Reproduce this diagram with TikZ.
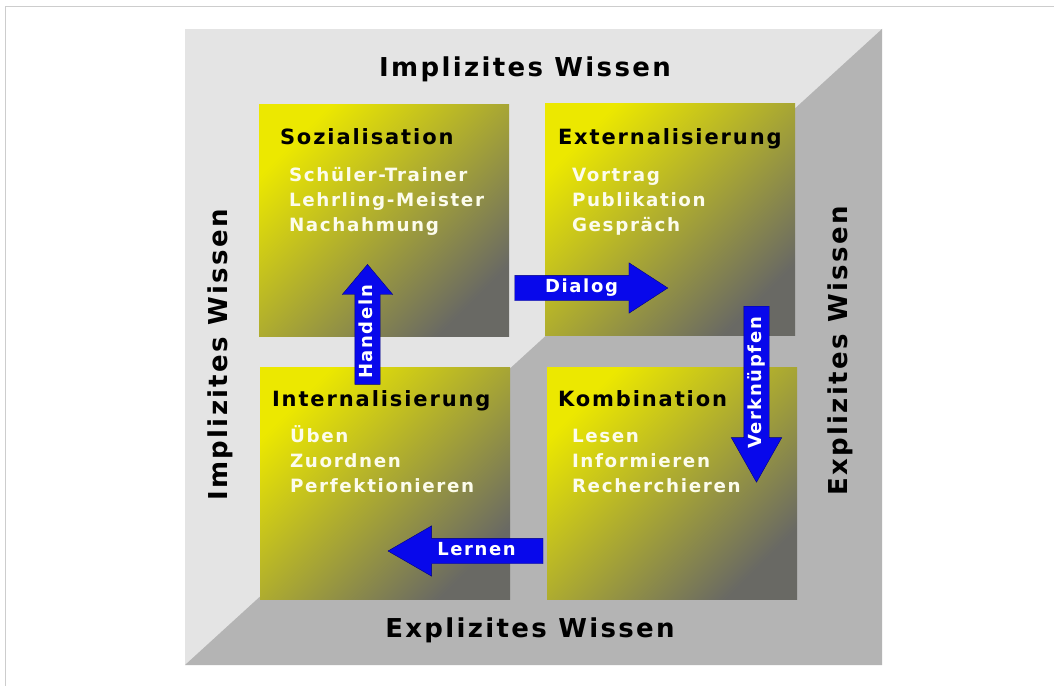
\documentclass[tikz,border=0pt]{standalone}
\usepackage{fontspec}
\setmainfont{DejaVu Sans}[LetterSpace=9]
\usepackage{tikz}
\usetikzlibrary{calc}
\usetikzlibrary{shapes.arrows}
\usepackage{xcolor}

\definecolor{framegrey}{RGB}{205,205,205}
\definecolor{lightside}{RGB}{228,228,228}
\definecolor{darkside}{RGB}{180,180,180}
\definecolor{boxyellow}{RGB}{236,232,0}
\definecolor{boxolive}{RGB}{188,183,35}
\definecolor{boxgrey}{RGB}{105,105,100}
\definecolor{arrowblue}{RGB}{8,8,235}
\definecolor{itemwhite}{RGB}{252,252,236}

\tikzset{
  quadrant/.style={rectangle, inner sep=0pt, minimum width=250pt, minimum height=232pt,
    top color=boxyellow, middle color=boxolive, bottom color=boxgrey, shading angle=45},
  heading/.style={font=\fontsize{26}{30}\selectfont\bfseries, text=black, inner sep=0pt},
  boxtitle/.style={font=\fontsize{21}{25}\selectfont\bfseries, text=black, inner sep=0pt, anchor=base west},
  boxitem/.style={font=\fontsize{18.3}{22}\selectfont\bfseries, text=itemwhite, inner sep=0pt, anchor=base west},
  flow/.style={single arrow, fill=arrowblue, draw=blue!50!black, thin,
    font=\fontsize{18}{22}\selectfont\bfseries, text=white,
    text height=13pt, text depth=4pt, inner ysep=4pt, inner xsep=2pt,
    single arrow head extend=12.5pt}
}

\begin{document}
\begin{tikzpicture}[x=1pt,y=-1pt]
\useasboundingbox (0,0) rectangle (1054,685);
\fill[white] (0,0) rectangle (1054,685);
\draw[framegrey] (5,6) rectangle (1080,710);

\fill[lightside] (185,29) rectangle (882,665);
\fill[darkside] (882,29) -- (882,665) -- (185,665) -- cycle;

\node[heading] (topimpl) at (525,77) [anchor=base] {Implizites Wissen};
\node[heading] (botexpl) at (530,637) [anchor=base] {Explizites Wissen};
\node[heading, rotate=90] (leftimpl) at (220,355) {Implizites Wissen};
\node[heading, rotate=90] (rightexpl) at (840,351) {Explizites Wissen};

\node[quadrant] (sozi) at (384,220) {};
\node[quadrant] (ext) at (670,219) {};
\node[quadrant] (inter) at (385,483) {};
\node[quadrant] (komb) at (672,483) {};

\node[boxtitle] (sozi-t) at ([shift={(21,41)}]sozi.north west) {Sozialisation};
\node[boxtitle] (ext-t) at ([shift={(13,42)}]ext.north west) {Externalisierung};
\node[boxtitle] (inter-t) at ([shift={(12,40)}]inter.north west) {Internalisierung};
\node[boxtitle] (komb-t) at ([shift={(11,40)}]komb.north west) {Kombination};

\foreach \t [count=\i] in {Schüler-Trainer, Lehrling-Meister, Nachahmung}
  \node[boxitem] (sozi-\i) at ([shift={(30,53+25*\i)}]sozi.north west) {\t};
\foreach \t [count=\i] in {Vortrag, Publikation, Gespräch}
  \node[boxitem] (ext-\i) at ([shift={(27,54+25*\i)}]ext.north west) {\t};
\foreach \t [count=\i] in {Üben, Zuordnen, Perfektionieren}
  \node[boxitem] (inter-\i) at ([shift={(30,51+25*\i)}]inter.north west) {\t};
\foreach \t [count=\i] in {Lesen, Informieren, Recherchieren}
  \node[boxitem] (komb-\i) at ([shift={(25,51+25*\i)}]komb.north west) {\t};

\node[flow, rotate=90, minimum height=120pt, single arrow tip angle=80] (handeln) at (367.5,332) {Handeln};
\node[flow, minimum height=153pt, single arrow tip angle=66] (dialog) at (581.5,288) {Dialog};
\node[flow, rotate=90, shape border rotate=180, minimum height=176pt, single arrow tip angle=59] (verkn) at (756.5,383) {Verknüpfen};
\node[flow, shape border rotate=180, minimum height=155pt, single arrow tip angle=60] (lernen) at (476.5,551) {Lernen};

\end{tikzpicture}
\end{document}
